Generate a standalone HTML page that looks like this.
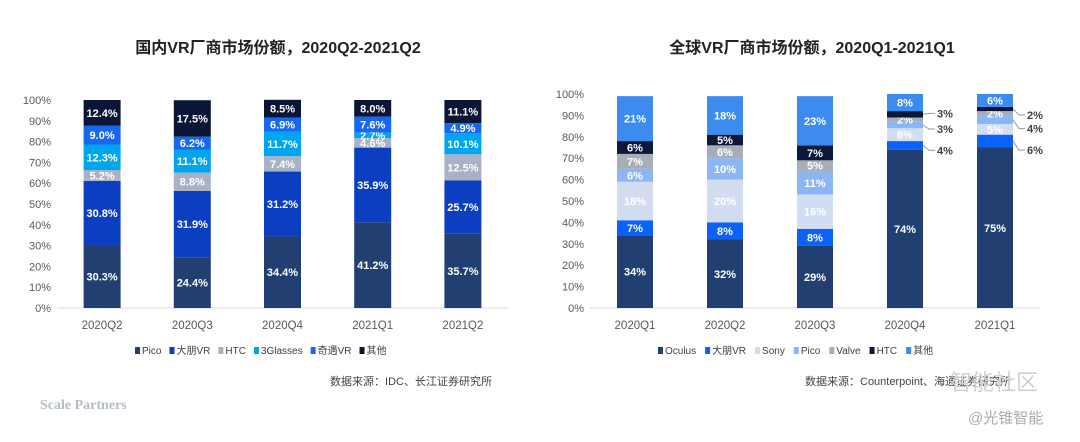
<!DOCTYPE html>
<html><head><meta charset="utf-8">
<style>
body{margin:0;background:#fff;width:1080px;height:442px;overflow:hidden;font-family:"Liberation Sans","Noto Sans CJK SC",sans-serif;}
svg{position:absolute;left:0;top:0}
</style></head>
<body>
<svg id="c" width="1080" height="442" xmlns="http://www.w3.org/2000/svg">
<text x="278" y="53" text-anchor="middle" font-size="16" font-weight="bold" fill="#222">国内VR厂商市场份额，2020Q2-2021Q2</text>
<text x="812" y="53" text-anchor="middle" font-size="16" font-weight="bold" fill="#222">全球VR厂商市场份额，2020Q1-2021Q1</text>
<text x="411" y="385" text-anchor="middle" font-size="11" fill="#444">数据来源：IDC、长江证券研究所</text>
<text x="908" y="385" text-anchor="middle" font-size="11" fill="#444">数据来源：Counterpoint、海通证券研究所</text>
<text x="40" y="409" font-size="14" font-weight="bold" fill="#b4bcc8" font-family="Liberation Serif,serif">Scale Partners</text>
<text x="950" y="390" font-size="22" fill="#d0d0d0">智能社区</text>
<text x="968" y="423" font-size="15" fill="#aaa">@光锥智能</text>
</svg>
<script>
const leftCats=["2020Q2","2020Q3","2020Q4","2021Q1","2021Q2"];
const leftSeries=["Pico","大朋VR","HTC","3Glasses","奇遇VR","其他"];
const leftPico=[30.3,24.4,34.4,41.2,35.7];
const leftDP=[30.8,31.9,31.2,35.9,25.7];
const leftHTC=[5.2,8.8,7.4,4.6,12.5];
const left3G=[12.3,11.1,11.7,2.7,10.1];
const leftQY=[9.0,6.2,6.9,7.6,4.9];
const leftOther=[12.4,17.5,8.5,8.0,11.1];
const rightCats=["2020Q1","2020Q2","2020Q3","2020Q4","2021Q1"];
const rightSeries=["Oculus","大朋VR","Sony","Pico","Valve","HTC","其他"];
const rOculus=[34,32,29,74,75];
const rDP=[7,8,8,4,6];
const rSony=[18,20,16,6,5];
const rPico=[6,10,11,3,4];
const rValve=[7,6,5,2,2];
const rHTC=[6,5,7,3,2];
const rOther=[21,18,23,8,6];
const yTicks=[0,10,20,30,40,50,60,70,80,90,100];

const svg=document.getElementById('c');
const NS="http://www.w3.org/2000/svg";
function mk(t,a,txt){const e=document.createElementNS(NS,t);for(const k in a)e.setAttribute(k,a[k]);if(txt!=null)e.textContent=txt;svg.appendChild(e);return e;}

function chart(o){
  const y=v=>o.y0-(o.y0-o.y100)*v/100;
  const x=i=>o.xL+(o.xR-o.xL)*(i+0.5)/o.cats.length;
  yTicks.forEach(t=>{
    const e=mk('text',{x:o.xL-6,y:y(t)+4,'text-anchor':'end','font-size':11,fill:'#595959'},t+'%');
    
    
  });
  const ax=mk('line',{x1:o.xL,x2:o.xR,y1:o.y0,y2:o.y0,stroke:'#d9d9d9'});
  
  
  o.cats.forEach((c,i)=>{
    const e=mk('text',{x:x(i),y:o.y0+21,'text-anchor':'middle','font-size':11.5,fill:'#595959'},c);
    
    
    let acc=0;
    o.data.forEach((arr,s)=>{
      const v=arr[i];const yt=y(acc+v),yb=y(acc);
      const r=mk('rect',{x:x(i)-o.bw/2,y:yt,width:o.bw,height:yb-yt,fill:o.colors[s]});
      
      
      const lbl=o.fmt(v);
      const out=o.outside&&o.outside(s,v,i);
      if(out){
        const my=(yt+yb)/2;const ly=my+out;
        const l=mk('polyline',{points:`${x(i)+o.bw/2},${my} ${x(i)+o.bw/2+6},${ly} ${x(i)+o.bw/2+12},${ly}`,fill:'none',stroke:'#999','stroke-width':1});
        
        
        const t=mk('text',{x:x(i)+o.bw/2+14,y:ly+4,'font-size':11,'font-weight':'bold',fill:'#404040'},lbl);
        
        
      }else{
        const t=mk('text',{x:x(i),y:(yt+yb)/2+4,'text-anchor':'middle','font-size':11,'font-weight':'bold',fill:'#fff'},lbl);
        
        
      }
      acc+=v;
    });
  });
  let lx=o.legX;
  o.series.forEach((s,k)=>{
    const r=mk('rect',{x:lx,y:347,width:5,height:7,fill:o.colors[k]});
    
    
    const t=mk('text',{x:lx+7,y:354,'font-size':10,fill:'#404040'},s);
    
    
    lx+=7+t.getComputedTextLength()+o.legGap;
  });
}
chart({p:'left',cats:leftCats,series:leftSeries,data:[leftPico,leftDP,leftHTC,left3G,leftQY,leftOther],
  colors:['#213f70','#0c3ec2','#a9b2c4','#00a5ef','#1668f2','#0b1636'],
  xL:57,xR:508,y0:308,y100:100,bw:37,fmt:v=>v.toFixed(1)+'%',legX:135,legGap:8});
chart({p:'right',cats:rightCats,series:rightSeries,data:[rOculus,rDP,rSony,rPico,rValve,rHTC,rOther],
  colors:['#213f70','#0a62fb','#d3ddf1','#8ab6f4','#a8aeb9','#0b1838','#3c8cf0'],
  xL:590,xR:1040,y0:308,y100:94,bw:36,fmt:v=>v+'%',legX:658,legGap:9,
  outside:(s,v,i)=>{
    if(i===3){if(s===1)return 5;if(s===3)return 4;if(s===5)return -1;return 0;}
    if(i===4){if(s===1)return 9;if(s===3)return 9;if(s===5)return 6;return 0;}
    return 0;}});
</script>
</body></html>
